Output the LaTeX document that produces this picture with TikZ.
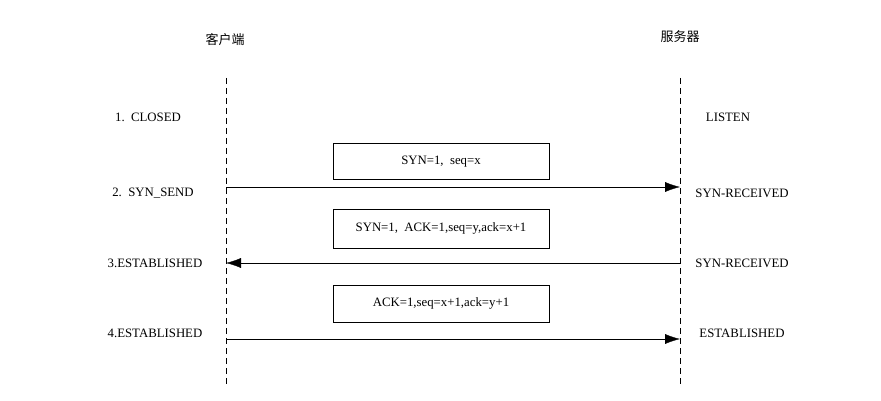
\documentclass[tikz,border=0pt]{standalone}
\usepackage{fontspec}
\setmainfont{Liberation Serif}
\newfontfamily\cjk{Noto Sans CJK SC}
\usetikzlibrary{arrows.meta}
\begin{document}
\begin{tikzpicture}[x=1pt,y=-1pt,
  lbl/.style={font=\fontsize{12.8}{14}\selectfont,inner sep=0pt},
  msgbox/.style={draw,thin,minimum width=216pt,minimum height=36pt,font=\fontsize{12.8}{14}\selectfont},
  life/.style={dash pattern=on 6pt off 4pt,thin},
  msg/.style={thin,-{Latex[length=15pt,width=10pt]}}]
\useasboundingbox (0,0) rectangle (881,401);
\node[lbl,font=\cjk\fontsize{13}{14}\selectfont] (c) at (225,40) {客户端};
\node[lbl,font=\cjk\fontsize{13}{14}\selectfont] (s) at (680,37) {服务器};
\coordinate (ct) at (226,78); \coordinate (cb) at (226,385);
\coordinate (st) at (680,78); \coordinate (sb) at (680,385);
\draw[life] (ct) -- (cb);
\draw[life] (st) -- (sb);
\node[lbl] (l1) at (148,117) {1.\ \ CLOSED};
\node[lbl] (r1) at (728,117) {LISTEN};
\node[msgbox] (b1) at (441,161.5) {SYN=1,\ \ seq=x};
\coordinate (a1s) at (226,187); \coordinate (a1e) at (680,187);
\draw[msg] (a1s) -- (a1e);
\node[lbl] (l2) at (153,193) {2.\ \ SYN\_SEND};
\node[lbl] (r2) at (742,193) {SYN-RECEIVED};
\node[msgbox,minimum height=39pt] (b2) at (441,228.5) {SYN=1,\ \ ACK=1,seq=y,ack=x+1};
\coordinate (a2s) at (680,263); \coordinate (a2e) at (226,263);
\draw[msg] (a2s) -- (a2e);
\node[lbl] (l3) at (155,263) {3.ESTABLISHED};
\node[lbl] (r3) at (742,263) {SYN-RECEIVED};
\node[msgbox,minimum height=37pt] (b3) at (441,303.5) {ACK=1,seq=x+1,ack=y+1};
\coordinate (a3s) at (226,339); \coordinate (a3e) at (680,339);
\draw[msg] (a3s) -- (a3e);
\node[lbl] (l4) at (155,333) {4.ESTABLISHED};
\node[lbl] (r4) at (742,333) {ESTABLISHED};
\end{tikzpicture}
\end{document}
